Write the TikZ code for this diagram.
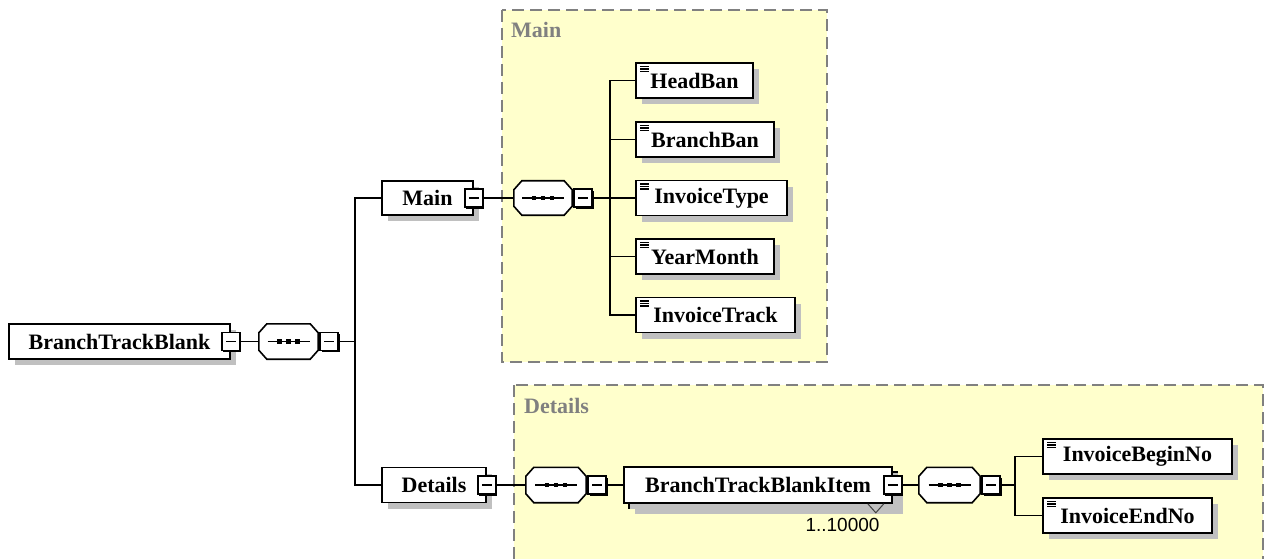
\documentclass[tikz,border=0pt]{standalone}
\usepackage{fontspec}
\setmainfont{Liberation Serif}
\newfontfamily\multfont{Liberation Sans}
\usetikzlibrary{shadows}
\definecolor{grpfill}{RGB}{255,255,204}
\definecolor{grpline}{RGB}{128,128,128}
\definecolor{shadowc}{RGB}{192,192,192}
\tikzset{
  shad/.style={drop shadow={shadow xshift=6pt,shadow yshift=-6pt,fill=shadowc,opacity=1}},
  lbl/.style={font=\bfseries\fontsize{22}{22}\selectfont},
  elembox/.style={rectangle,draw=black,line width=1.6pt,fill=white,minimum height=35pt,inner sep=0pt,lbl,shad},
  leaf/.style={elembox,path picture={
      \foreach \dy in {3.5,6,8.5}
        \draw[line width=1.2pt] ([xshift=4pt,yshift=-\dy pt]path picture bounding box.north west) -- ++(9pt,0);}},
  seqbox/.style={rectangle,draw=none,minimum width=60pt,minimum height=35pt,inner sep=0pt},
  minusbox/.style={rectangle,draw=black,line width=1.5pt,fill=white,minimum size=18pt,inner sep=0pt,
      drop shadow={shadow xshift=1.5pt,shadow yshift=-1.5pt,fill=black,opacity=1},
      path picture={\draw[line width=1.2pt] ([xshift=4pt]path picture bounding box.west) -- ([xshift=-4pt]path picture bounding box.east);}},
  conn/.style={line width=1.6pt,draw=black},
  grp/.style={draw=grpline,fill=grpfill,line width=1.6pt,dash pattern=on 12pt off 6pt},
  grplbl/.style={lbl,text=grpline,anchor=west,inner sep=0pt},
}
\begin{document}
\begin{tikzpicture}[x=1pt,y=-1pt]
\useasboundingbox[fill=white] (0,0) rectangle (1264,559);
% groups
\draw[grp] (502,10) rectangle (827,362);
\node[grplbl] (gmain) at (511,30) {Main};
\draw[grp] (514,385) rectangle (1263,570);
\node[grplbl] (gdet) at (524,406) {Details};

% root
\node[elembox,minimum width=221pt] (root) at (119.5,341.5) {BranchTrackBlank};
\node[minusbox] (rootm) at (root.east) {};
\node[seqbox,minimum width=59pt] (s1) at (288.5,341.5) {};
\coordinate (s1mpos) at ([xshift=11pt]s1.east);

% Main
\node[elembox,minimum width=91pt,minimum height=34pt] (mainb) at (427.5,198) {Main};
\node[minusbox] (mainm) at (mainb.east) {};
\node[seqbox,minimum width=58pt,minimum height=34pt] (s2) at (543,198) {};
\coordinate (s2mpos) at ([xshift=11pt]s2.east);
\node[leaf,minimum width=117pt] (headban) at (694.5,80.5) {HeadBan};
\node[leaf,minimum width=138pt] (branchban) at (705,139.5) {BranchBan};
\node[leaf,minimum width=151pt] (invtype) at (711.5,198) {InvoiceType};
\node[leaf,minimum width=138pt] (yearmonth) at (705,256.5) {YearMonth};
\node[leaf,minimum width=159pt] (invtrack) at (715.5,315) {InvoiceTrack};

% Details
\node[elembox,minimum width=104pt] (detb) at (434,485) {Details};
\node[minusbox] (detm) at (detb.east) {};
\node[seqbox] (s3) at (556,485) {};
\coordinate (s3mpos) at ([xshift=11pt]s3.east);
\node[elembox,minimum width=268pt,minimum height=36pt] (btbiback) at (763,490) {};
\node[elembox,minimum width=268pt,minimum height=36pt,drop shadow={opacity=0}] (btbi) at (758,485) {BranchTrackBlankItem};
\node[minusbox] (btbim) at (btbi.east) {};
\node[seqbox,minimum width=61pt] (s4) at (949.5,485) {};
\coordinate (s4mpos) at ([xshift=11pt]s4.east);
\node[leaf,minimum width=189pt] (ibn) at (1137.5,456.5) {InvoiceBeginNo};
\node[leaf,minimum width=169pt] (ien) at (1127.5,515.5) {InvoiceEndNo};
\draw[line width=1pt,black!75] ([xshift=-25pt]btbi.south east) -- ([xshift=-17pt,yshift=-9pt]btbi.south east) -- ([xshift=-9pt]btbi.south east);
\node[font=\multfont\fontsize{19}{19}\selectfont,inner sep=0pt] (mult) at (842.5,524.5) {1..10000};

% sequence octagons
\foreach \n in {s1,s2,s3,s4}{
  \fill[shadowc,shift={(6pt,-6pt)}] ([xshift=8pt]\n.north west) -- ([xshift=-8pt]\n.north east) -- ([yshift=-9pt]\n.north east) -- ([yshift=9pt]\n.south east) -- ([xshift=-8pt]\n.south east) -- ([xshift=8pt]\n.south west) -- ([yshift=9pt]\n.south west) -- ([yshift=-9pt]\n.north west) -- cycle;
  \draw[line width=1.6pt,fill=white] ([xshift=8pt]\n.north west) -- ([xshift=-8pt]\n.north east) -- ([yshift=-9pt]\n.north east) -- ([yshift=9pt]\n.south east) -- ([xshift=-8pt]\n.south east) -- ([xshift=8pt]\n.south west) -- ([yshift=9pt]\n.south west) -- ([yshift=-9pt]\n.north west) -- cycle;
  \draw[line width=1.4pt] ([xshift=-21pt]\n.center) -- ([xshift=21pt]\n.center);
  \foreach \dx in {-9,0,9}
    \fill ([xshift=\dx pt]\n.center) ++(-2.4pt,-2.4pt) rectangle ++(4.8pt,4.8pt);
}
% minus boxes of the sequences, on top of the octagons
\node[minusbox] (s1m) at (s1mpos) {};
\node[minusbox] (s2m) at (s2mpos) {};
\node[minusbox] (s3m) at (s3mpos) {};
\node[minusbox] (s4m) at (s4mpos) {};

% connectors
\coordinate (j1) at (355,341.5);
\coordinate (j2) at (610,198);
\coordinate (j3) at (1015,485);
\draw[conn] (rootm.east) -- (s1.west);
\draw[conn] (s1m.east) -- (j1);
\draw[conn] (mainb.west) -| (j1) |- (detb.west);
\draw[conn] (mainm.east) -- (s2.west);
\draw[conn] (s2m.east) -- (j2);
\foreach \c in {headban,branchban,invtype,yearmonth,invtrack}
  \draw[conn] (j2) |- (\c.west);
\draw[conn] (detm.east) -- (s3.west);
\draw[conn] (s3m.east) -- (btbi.west);
\draw[conn] (btbim.east) -- (s4.west);
\draw[conn] (s4m.east) -- (j3);
\draw[conn] (j3) |- (ibn.west);
\draw[conn] (j3) |- (ien.west);
\end{tikzpicture}
\end{document}
